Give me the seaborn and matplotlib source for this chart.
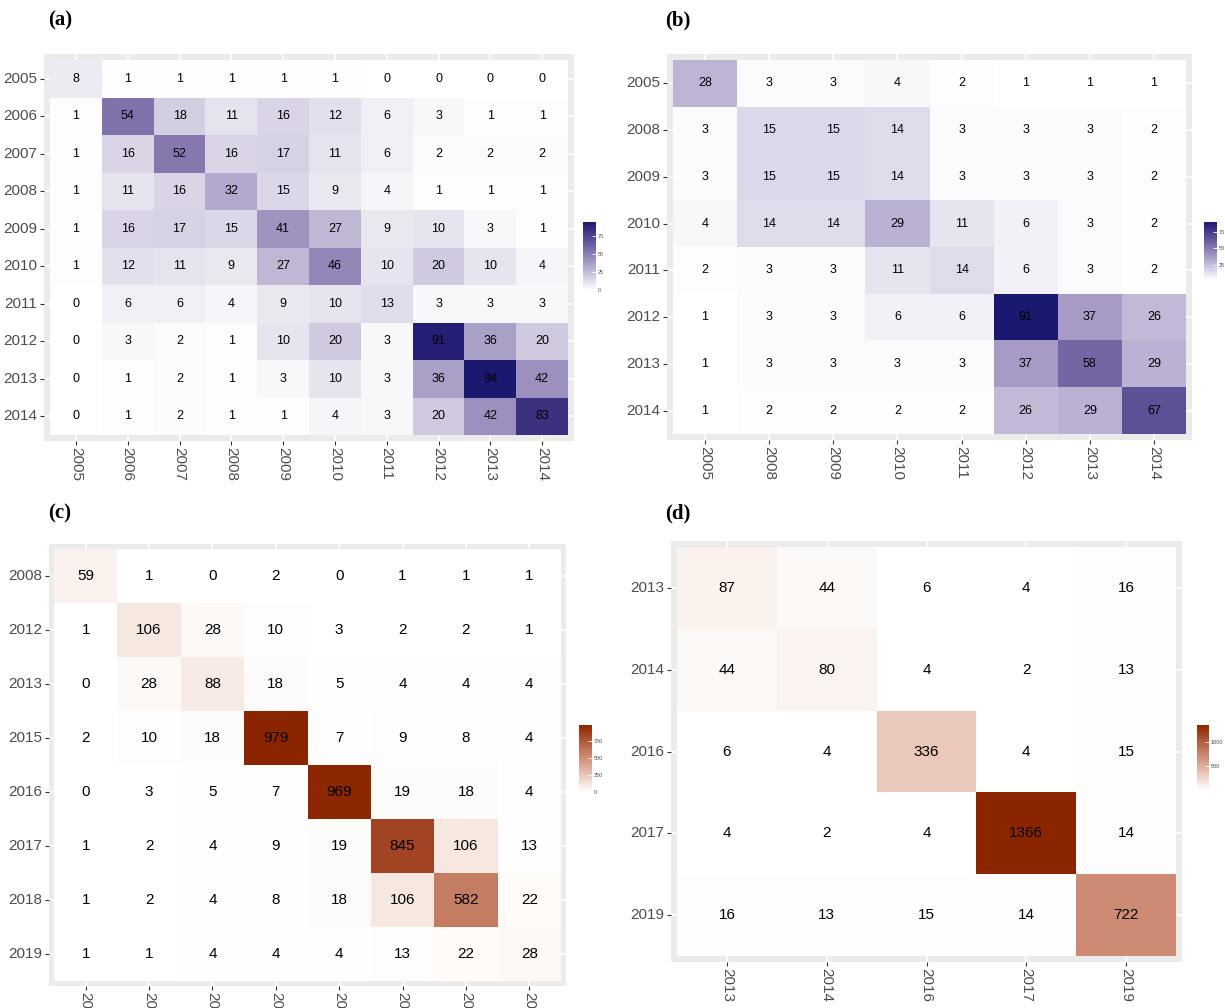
import numpy as np
import pandas as pd
import seaborn as sns
import matplotlib.pyplot as plt
from matplotlib.colors import ListedColormap, to_rgb

# ---- data ----
years_a = [2005, 2006, 2007, 2008, 2009, 2010, 2011, 2012, 2013, 2014]
counts_a = [
    [8, 1, 1, 1, 1, 1, 0, 0, 0, 0],
    [1, 54, 18, 11, 16, 12, 6, 3, 1, 1],
    [1, 16, 52, 16, 17, 11, 6, 2, 2, 2],
    [1, 11, 16, 32, 15, 9, 4, 1, 1, 1],
    [1, 16, 17, 15, 41, 27, 9, 10, 3, 1],
    [1, 12, 11, 9, 27, 46, 10, 20, 10, 4],
    [0, 6, 6, 4, 9, 10, 13, 3, 3, 3],
    [0, 3, 2, 1, 10, 20, 3, 91, 36, 20],
    [0, 1, 2, 1, 3, 10, 3, 36, 94, 42],
    [0, 1, 2, 1, 1, 4, 3, 20, 42, 83],
]

years_b = [2005, 2008, 2009, 2010, 2011, 2012, 2013, 2014]
counts_b = [
    [28, 3, 3, 4, 2, 1, 1, 1],
    [3, 15, 15, 14, 3, 3, 3, 2],
    [3, 15, 15, 14, 3, 3, 3, 2],
    [4, 14, 14, 29, 11, 6, 3, 2],
    [2, 3, 3, 11, 14, 6, 3, 2],
    [1, 3, 3, 6, 6, 91, 37, 26],
    [1, 3, 3, 3, 3, 37, 58, 29],
    [1, 2, 2, 2, 2, 26, 29, 67],
]

years_c = [2008, 2012, 2013, 2015, 2016, 2017, 2018, 2019]
counts_c = [
    [59, 1, 0, 2, 0, 1, 1, 1],
    [1, 106, 28, 10, 3, 2, 2, 1],
    [0, 28, 88, 18, 5, 4, 4, 4],
    [2, 10, 18, 979, 7, 9, 8, 4],
    [0, 3, 5, 7, 969, 19, 18, 4],
    [1, 2, 4, 9, 19, 845, 106, 13],
    [1, 2, 4, 8, 18, 106, 582, 22],
    [1, 1, 4, 4, 4, 13, 22, 28],
]

years_d = [2013, 2014, 2016, 2017, 2019]
counts_d = [
    [87, 44, 6, 4, 16],
    [44, 80, 4, 2, 13],
    [6, 4, 336, 4, 15],
    [4, 2, 4, 1366, 14],
    [16, 13, 15, 14, 722],
]


# ggplot-like gradient: interpolate white -> colour in Lab space
def _to_lab(rgb):
    c = np.array(rgb)
    c = np.where(c > 0.04045, ((c + 0.055) / 1.055) ** 2.4, c / 12.92)
    m = np.array([[0.4124, 0.3576, 0.1805],
                  [0.2126, 0.7152, 0.0722],
                  [0.0193, 0.1192, 0.9505]])
    xyz = m @ c / np.array([0.95047, 1.0, 1.08883])
    f = np.where(xyz > 0.008856, np.cbrt(xyz), 7.787 * xyz + 16 / 116)
    return np.array([116 * f[1] - 16, 500 * (f[0] - f[1]), 200 * (f[1] - f[2])])


def _from_lab(lab):
    L, a, b = lab
    fy = (L + 16) / 116
    f = np.array([fy + a / 500, fy, fy - b / 200])
    xyz = np.where(f ** 3 > 0.008856, f ** 3, (f - 16 / 116) / 7.787)
    xyz = xyz * np.array([0.95047, 1.0, 1.08883])
    m = np.array([[3.2406, -1.5372, -0.4986],
                  [-0.9689, 1.8758, 0.0415],
                  [0.0557, -0.2040, 1.0570]])
    c = m @ xyz
    c = np.where(c > 0.0031308, 1.055 * np.abs(c) ** (1 / 2.4) - 0.055, 12.92 * c)
    return np.clip(c, 0, 1)


def gradient(low, high, n=256):
    l0, l1 = _to_lab(to_rgb(low)), _to_lab(to_rgb(high))
    return ListedColormap([_from_lab(l0 + t * (l1 - l0)) for t in np.linspace(0, 1, n)])


purples = gradient("white", "#191970")
reds = gradient("white", "#8B2500")

W, H = 1225, 1008
fig = plt.figure(figsize=(W / 100, H / 100), dpi=100)
plt.rcParams["font.family"] = ["Liberation Sans", "DejaVu Sans"]


def px_rect(x0, y0, x1, y1):
    return [x0 / W, 1 - y1 / H, (x1 - x0) / W, (y1 - y0) / H]


def panel(years, counts, cmap, tiles, cbar_box, ticks, label, label_xy, fs, pad=6):
    x0, y0, x1, y1 = tiles
    n = len(years)
    ax = fig.add_axes(px_rect(x0 - pad, y0 - pad, x1 + pad, y1 + pad))
    cax = fig.add_axes(px_rect(*cbar_box))
    df = pd.DataFrame(counts, index=years, columns=years)
    sns.heatmap(df, ax=ax, cbar_ax=cax, cmap=cmap, annot=True, fmt="d",
                annot_kws={"fontsize": fs, "color": "black"},
                vmin=df.values.min(), vmax=df.values.max(),
                cbar_kws={"ticks": ticks})
    cw = (x1 - x0) / n
    ch = (y1 - y0) / n
    ax.set_xlim(-pad / cw, n + pad / cw)
    ax.set_ylim(n + pad / ch, -pad / ch)
    ax.set_facecolor("#EBEBEB")
    ax.set_axisbelow(True)
    ax.grid(True, color="white", lw=1.2)
    for s in ax.spines.values():
        s.set_visible(False)
    ax.set_xlabel("")
    ax.set_ylabel("")
    ax.tick_params(axis="both", length=3, width=0.8, color="#333333",
                   labelsize=11, labelcolor="#4D4D4D", pad=2)
    ax.tick_params(axis="x", pad=1)
    ax.set_xticklabels(years, rotation=270)
    ax.set_yticklabels(years, rotation=0)
    cax.tick_params(length=3, width=0.6, color="white", direction="in",
                    labelsize=4, labelcolor="#4D4D4D", pad=1)
    ax.collections[0].colorbar.outline.set_visible(False)
    fig.text(label_xy[0] / W, 1 - label_xy[1] / H, label, fontsize=15,
             fontweight="bold", family=["Liberation Serif", "DejaVu Serif"],
             ha="left", va="center")


panel(years_a, counts_a, purples, (50, 60, 568, 435), (583, 222, 596, 290),
      [0, 25, 50, 75], "(a)", (48, 20), 9)
panel(years_b, counts_b, purples, (673, 60, 1186, 434), (1204, 222, 1217, 280),
      [25, 50, 75], "(b)", (665, 20), 9)
panel(years_c, counts_c, reds, (54, 549, 561, 981), (579, 725, 592, 792),
      [0, 250, 500, 750], "(c)", (48, 513), 11, pad=5)
panel(years_d, counts_d, reds, (677, 547, 1176, 956), (1197, 725, 1209, 790),
      [500, 1000], "(d)", (665, 513), 11)

fig.savefig("out.png", dpi=100)
